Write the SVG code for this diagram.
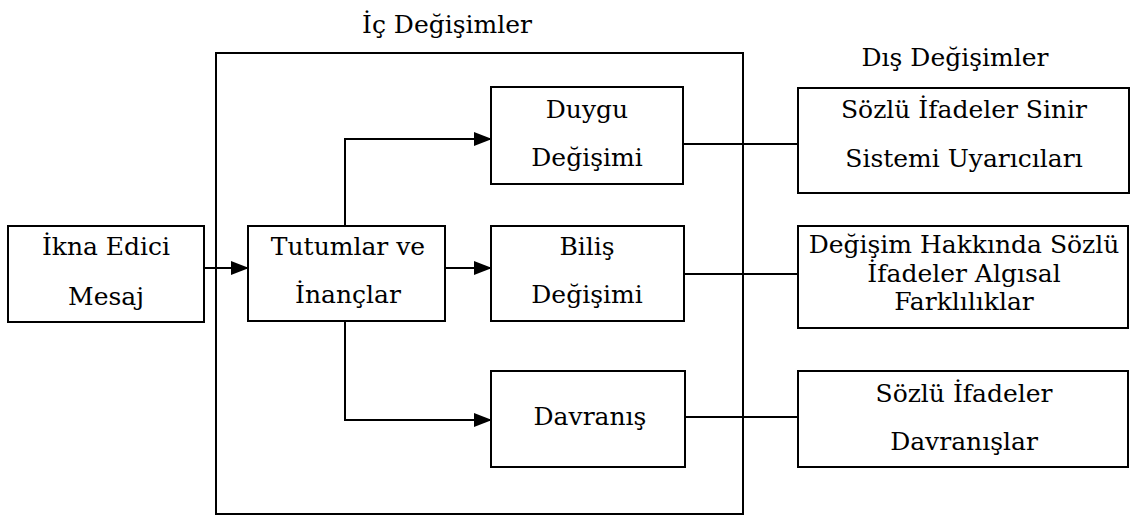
<svg xmlns="http://www.w3.org/2000/svg" width="1132" height="519" viewBox="0 0 1132 519">
<defs>
<marker id="arr" markerWidth="18" markerHeight="14" refX="17" refY="7" orient="auto" markerUnits="userSpaceOnUse">
<path d="M0,0 L18,7 L0,14 Z" fill="#000"/>
</marker>
<style>
.box{fill:#fff;stroke:#000;stroke-width:2}
.ln{fill:none;stroke:#000;stroke-width:2}
text{font-family:"DejaVu Serif","Liberation Serif",serif;font-size:25px;fill:#000;text-anchor:middle}
</style>
</defs>
<rect width="1132" height="519" fill="#fff"/>
<g id="ic-degisimler">
<rect class="box" x="216" y="53" width="527" height="461"/>
<text x="447" y="33">İç Değişimler</text>
</g>
<text id="dis-title" x="955" y="66">Dış Değişimler</text>
<g id="connectors">
<line class="ln" x1="204" y1="268" x2="248" y2="268" marker-end="url(#arr)"/>
<polyline class="ln" points="345,226 345,139 491,139" marker-end="url(#arr)"/>
<line class="ln" x1="445" y1="268" x2="491" y2="268" marker-end="url(#arr)"/>
<polyline class="ln" points="345,321 345,420 491,420" marker-end="url(#arr)"/>
<line class="ln" x1="683" y1="144" x2="798" y2="144"/>
<line class="ln" x1="684" y1="274" x2="798" y2="274"/>
<line class="ln" x1="685" y1="417" x2="798" y2="417"/>
</g>
<g id="ikna">
<rect class="box" x="8" y="226" width="196" height="96"/>
<text x="106" y="255">İkna Edici</text>
<text x="106" y="305">Mesaj</text>
</g>
<g id="tutumlar">
<rect class="box" x="248" y="226" width="197" height="95"/>
<text x="348" y="255">Tutumlar ve</text>
<text x="348" y="303">İnançlar</text>
</g>
<g id="duygu">
<rect class="box" x="491" y="87" width="192" height="97"/>
<text x="587" y="118">Duygu</text>
<text x="587" y="166">Değişimi</text>
</g>
<g id="bilis">
<rect class="box" x="491" y="226" width="193" height="95"/>
<text x="587" y="255">Biliş</text>
<text x="587" y="303">Değişimi</text>
</g>
<g id="davranis">
<rect class="box" x="491" y="371" width="194" height="96"/>
<text x="590" y="425">Davranış</text>
</g>
<g id="sozlu-sinir">
<rect class="box" x="798" y="88" width="331" height="105"/>
<text x="964" y="118">Sözlü İfadeler Sinir</text>
<text x="964" y="167">Sistemi Uyarıcıları</text>
</g>
<g id="degisim-hakkinda">
<rect class="box" x="798" y="226" width="330" height="102"/>
<text x="964" y="253">Değişim Hakkında Sözlü</text>
<text x="964" y="282">İfadeler Algısal</text>
<text x="964" y="310">Farklılıklar</text>
</g>
<g id="sozlu-davranis">
<rect class="box" x="798" y="371" width="330" height="96"/>
<text x="964" y="402">Sözlü İfadeler</text>
<text x="964" y="450">Davranışlar</text>
</g>
</svg>
